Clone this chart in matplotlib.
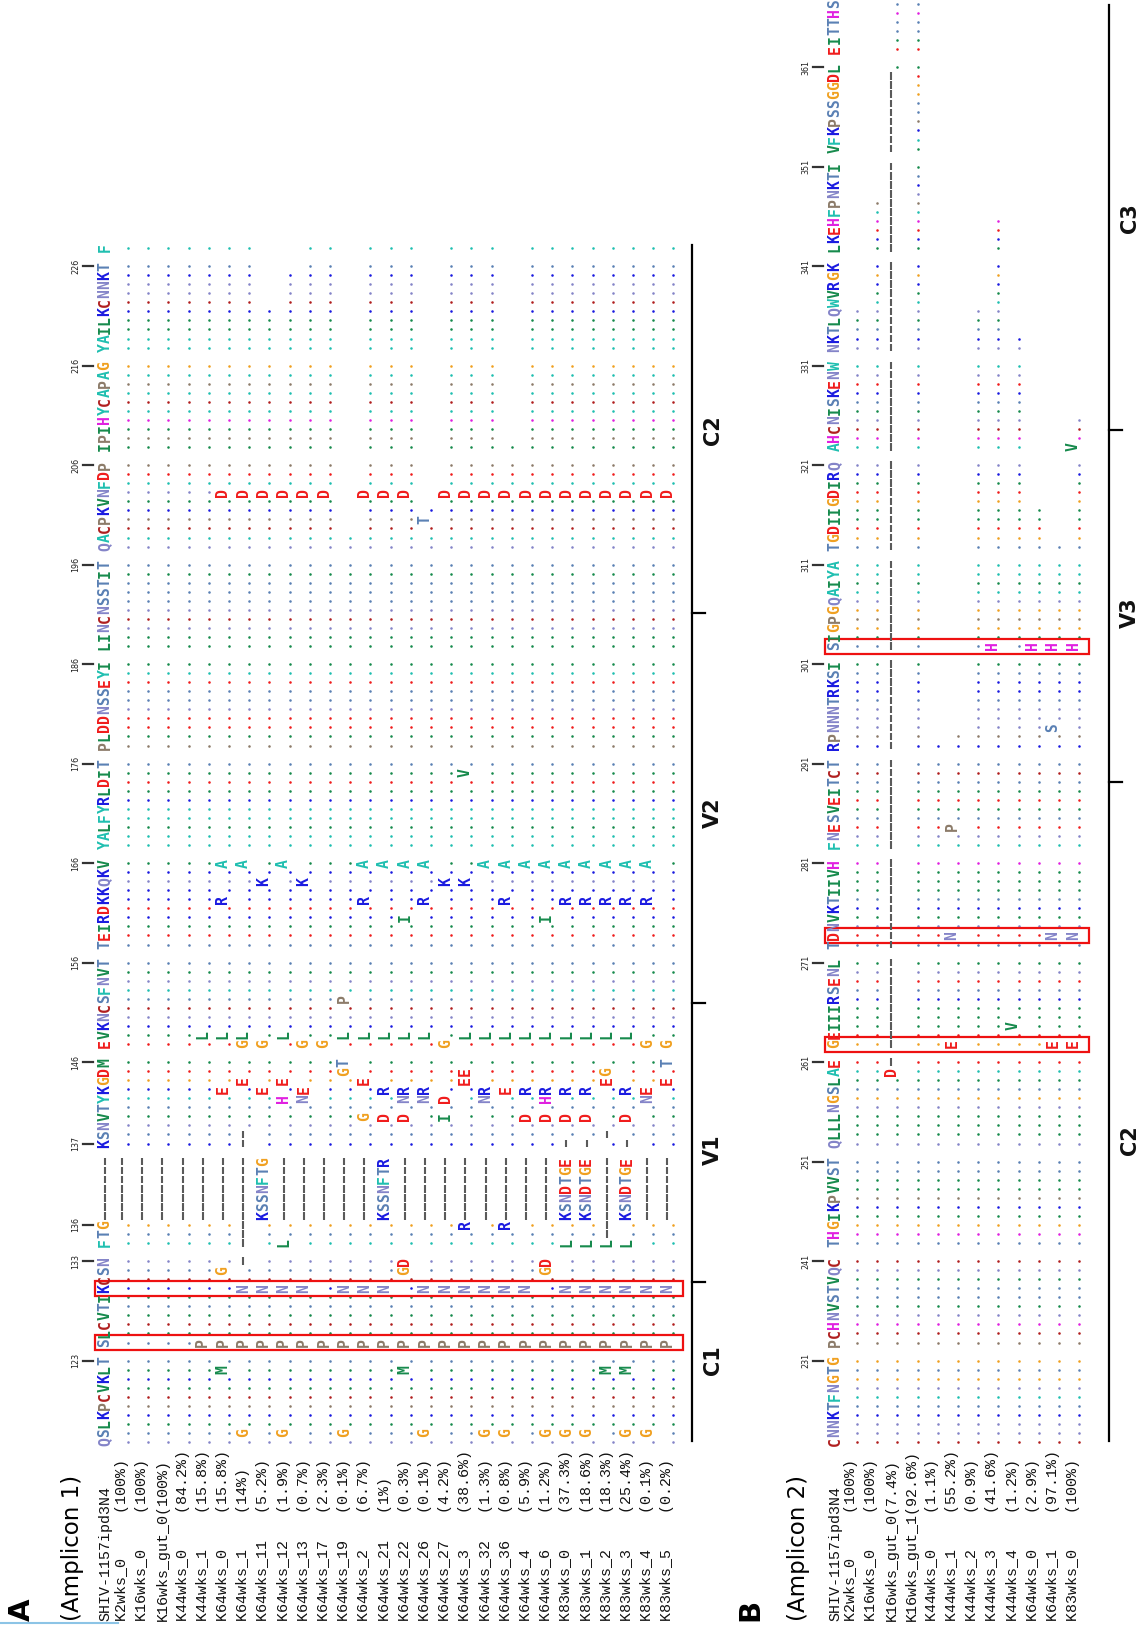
import numpy as np
import matplotlib
matplotlib.use("Agg")
import matplotlib.pyplot as plt
from matplotlib.patches import Rectangle
from matplotlib.collections import LineCollection

# residue colours
AA_COLORS = {
    "A": "#1fbfb0", "F": "#1fbfb0", "Y": "#1fbfb0", "W": "#1fbfb0",
    "I": "#168a4c", "L": "#168a4c", "M": "#168a4c", "V": "#168a4c",
    "K": "#1a1ae0", "R": "#1a1ae0",
    "D": "#f01c1c", "E": "#f01c1c",
    "N": "#8484c8", "Q": "#8484c8",
    "S": "#5a80b4", "T": "#5a80b4",
    "G": "#f0a020", "P": "#8c7b69", "C": "#b01e1e", "H": "#e020e0",
}

# ---------------- Amplicon 1 ----------------
REF_A = ("QSLKPCVKLT SLCVTIKCSN FTG------- KSNVTYKGDM EVKNCSFNVT TEIRDKKQKV "
         "YALFYRLDIT PLDDNSSEYI LINCNSSTIT QACPKVNFDP IPIHYCAPAG YAILKCNNKT F")
START_A = 114
TICKS_A = [123, 133, 136, 137, 146, 156, 166, 176, 186, 196, 206, 216, 226]
BOXES_A = [124, 130]
NAMES_A = ["K2wks_0", "K16wks_0", "K16wks_gut_0", "K44wks_0", "K44wks_1",
           "K64wks_0", "K64wks_1", "K64wks_11", "K64wks_12", "K64wks_13",
           "K64wks_17", "K64wks_19", "K64wks_2", "K64wks_21", "K64wks_22",
           "K64wks_26", "K64wks_27", "K64wks_3", "K64wks_32", "K64wks_36",
           "K64wks_4", "K64wks_6", "K83wks_0", "K83wks_1", "K83wks_2",
           "K83wks_3", "K83wks_4", "K83wks_5"]
PCT_A = ["100", "100", "100", "84.2", "15.8", "15.8", "14", "5.2", "1.9", "0.7",
         "2.3", "0.1", "6.7", "1", "0.3", "0.1", "4.2", "38.6", "1.3", "0.8",
         "5.9", "1.2", "37.3", "18.6", "18.3", "25.4", "0.1", "0.2"]
SEQS_A = [
    ".......... .......... ...------- .......... .......... .......... .......... .......... .......... .......... .......... .......... .",
    ".......... .......... ...------- .......... .......... .......... .......... .......... .......... .......... .......... .......... .",
    ".......... .......... ...------- .......... .......... .......... .......... .......... .......... .......... .......... .......... .",
    ".......... .......... ...------- .......... .......... .......... .......... .......... .......... .......... .......... .......... .",
    ".......... P......... ...------- .......... .L........ .......... .......... .......... .......... .......... .......... .......... .",
    "........M. P.......G. ...------- ......E... .L........ .....R...A .......... .......... .......... ......D... .......... .......... .",
    ".G........ P.....N..- ---------- --.....E.. GL........ .........A .......... .......... .......... ......D... .......... .......... .",
    ".......... P.....N... ...KSSNFTG ......E... G......... .......K.. .......... .......... .......... ......D... .......... .....",
    ".G........ P.....N... L..------- .....H.E.. .L........ .........A .......... .......... .......... ......D... .......... .........",
    ".......... P.....N... ...------- .....NE... G......... .......K.. .......... .......... .......... ......D... .......... .......... .",
    ".......... P......... ...------- .......... G......... .......... .......... .......... .......... ......D... .......... .......... .",
    ".G........ P.....N... ...------- ........GT .L...P.... .......... .......... .......... .......... ..",
    ".......... P.....N... ...------- ...G...E.. .L........ .....R...A .......... .......... .......... ......D... .......... .......... .",
    ".......... P.....N... ...KSSNFTR ...D..R... .L........ .........A .......... .......... .......... ......D... .......... .......... .",
    "........M. P.......GD ...------- ...D.NR... .L........ ...I.....A .......... .......... .......... ......D... .......... .......... .",
    ".G........ P.....N... ...------- .....NR... .L........ .....R...A .......... .......... .......... ...T.",
    ".......... P.....N... ...------- ...I.D.... G......... .......K.. .......... .......... .......... ......D... .......... .......... .",
    ".......... P.....N... ..R------- .......EE. .L........ .......K.. ........V. .......... .......... ......D... .......... .......... .",
    ".G........ P.....N... ...------- .....NR... .L........ .........A .......... .......... .......... ......D... .......... .......... .",
    ".G........ P.....N... ..R------- ......E... .L........ .....R...A .......... .......... .......... ......D... .",
    ".......... P.....N... ...------- ...D..R... .L........ .........A .......... .......... .......... ......D... .......... .......... .",
    ".G........ P.......GD ...------- ...D.HR... .L........ ...I.....A .......... .......... .......... ......D... .......... .......... .",
    ".G........ P.....N... L..KSNDTGE -..D..R... .L........ .....R...A .......... .......... .......... ......D... .......... .......... .",
    ".G........ P.....N... L..KSNDTGE -..D..R... .L........ .....R...A .......... .......... .......... ......D... .......... .......... .",
    "........M. P.....N... L--------- .-.....EG. .L........ .....R...A .......... .......... .......... ......D... .......... .......... .",
    ".G......M. P.....N... L..KSNDTGE -..D..R... .L........ .....R...A .......... .......... .......... ......D... .......... .......... .",
    ".G........ P.....N... ...------- .....NE... G......... .....R...A .......... .......... .......... ......D... .......... .......... .",
    ".......... P.....N... ...------- .......E.T G......... .......... .......... .......... .......... ......D... .......... .......... .",
]
REGIONS_A = [("C1", 1360), ("V1", 1150), ("V2", 813), ("C2", 430)]
REGION_TICKS_A = [17.7, 48.5, 91.6]

# ---------------- Amplicon 2 ----------------
REF_B = ("CNNKTFNGTG PCHNVSTVQC THGIKPVVST QLLLNGSLAE GEIIIRSENL TDNVKTIIVH "
         "FNESVEITCT RPNNNTRKSI SIGPGQAIYA TGDIIGDIRQ AHCNISKENW NKTLQWVRGK "
         "LKEHFPNKTI VFKPSSGGDL EITTHS")
START_B = 222
TICKS_B = [231, 241, 251, 261, 271, 281, 291, 301, 311, 321, 331, 341, 351, 361]
BOXES_B = [262, 273, 302]
NAMES_B = ["K2wks_0", "K16wks_0", "K16wks_gut_0", "K16wks_gut_1", "K44wks_0",
           "K44wks_1", "K44wks_2", "K44wks_3", "K44wks_4", "K64wks_0",
           "K64wks_1", "K83wks_0"]
PCT_B = ["100", "100", "7.4", "92.6", "1.1", "55.2", "0.9", "41.6", "1.2",
         "2.9", "97.1", "100"]
SEQS_B = [
    ".......... .......... .......... .......... .......... .......... .......... .......... .......... .......... .......... .....",
    ".......... .......... .......... .......... .......... .......... .......... .......... .......... .......... .......... .......... ......",
    ".......... .......... .......... ........D- ---------- ---------- ---------- ---------- ---------- ---------- ---------- ---------- ---------- ---------. ......",
    ".......... .......... .......... .......... .......... .......... .......... .......... .......... .......... .......... .......... .......... .......... ......",
    ".......... .......... .......... .......... .......... .......... .......... .",
    ".......... .......... .......... .......... E......... .N........ ..P....... ..",
    ".......... .......... .......... .......... .......... .......... .......... .......... .......... .......... .......... .....",
    ".......... .......... .......... .......... .......... .......... .......... .......... H......... .......... .......... .......... ....",
    ".......... .......... .......... .......... ..V....... .......... .......... .......... .......... .......... .......... ..",
    ".......... .......... .......... .......... .......... .......... .......... .......... H......... .....",
    ".......... .......... .......... .......... E......... .N........ .......... ..S....... H......... .",
    ".......... .......... .......... .......... E......... .N........ .......... .......... H......... .......... V...",
]
REGIONS_B = [("C2", 1140), ("V3", 613), ("C3", 218)]
REGION_TICKS_B = [73.0, 111.9]

# ---------------- layout ----------------
Y0 = 1442.0      # centre of the first alignment column
PITCH = 9.045    # one character cell
DX = 20.2        # spacing between sequences
LETTER_DX = -6.0 # letter centre relative to the dot baseline
SEQ_FONT = dict(family="DejaVu Sans Mono", fontweight="bold", fontsize=10.6)
NAME_FONT = dict(family="Liberation Mono", fontsize=10.85, color="#111111")


def slot_y(slot):
    return Y0 - slot * PITCH


def residue_slots(ref):
    """slot index of every residue (non-gap, non-space) in the reference"""
    return [i for i, c in enumerate(ref) if c not in " -"]


class Layer:
    """collects dots and gap strokes so each kind is drawn in one call"""

    def __init__(self):
        self.dots = {}
        self.gaps = []

    def add(self, ax, x, slot, ch, colour):
        y = slot_y(slot)
        if ch == ".":
            self.dots.setdefault(colour, []).append((x, y))
        elif ch == "-":
            xc = x + LETTER_DX
            self.gaps.append([(xc, y - 3.8), (xc, y + 3.8)])
        elif ch != " ":
            ax.text(x + LETTER_DX, y, ch, rotation=90, ha="center",
                    va="center", color=AA_COLORS.get(ch, "k"), **SEQ_FONT)

    def flush(self, ax):
        for colour, pts in self.dots.items():
            pts = np.array(pts)
            ax.scatter(pts[:, 0], pts[:, 1], s=3.4, c=colour, marker="o",
                       linewidths=0)
        ax.add_collection(LineCollection(self.gaps, colors="#5a5a5a",
                                         linewidths=1.5, capstyle="butt"))


def draw_panel(ax, ref, start, ticks, boxes, names, pcts, seqs, x_ref, x0,
               axis_x, regions, region_ticks, top_y):
    res_slots = residue_slots(ref)
    xs = [x0 + i * DX for i in range(len(seqs))]
    layer = Layer()

    # reference sequence
    for s, ch in enumerate(ref):
        layer.add(ax, x_ref, s, ch, AA_COLORS.get(ch, "k"))

    # aligned sequences
    for x, seq in zip(xs, seqs):
        for s, ch in enumerate(seq):
            layer.add(ax, x, s, ch, AA_COLORS.get(ref[s], "k"))
    layer.flush(ax)

    # position ticks above the reference
    for num in ticks:
        y = slot_y(res_slots[num - start])
        ax.plot([x_ref - 28, x_ref - 18], [y, y], color="#333333", lw=1.6)
        ax.text(x_ref - 35, y, str(num), rotation=90, ha="center",
                va="center", fontsize=5.8, color="#222222")

    # highlighted positions
    for num in boxes:
        y = slot_y(res_slots[num - start])
        ax.add_patch(Rectangle((x_ref - 16, y - 7.5), xs[-1] + 10 - (x_ref - 16),
                               15, fill=False, ec="#ee1111", lw=1.6))

    # sequence names
    ax.text(x_ref + LETTER_DX, 1621, "SHIV-1157ipd3N4", rotation=90,
            ha="center", va="bottom", **NAME_FONT)
    for x, name, pct in zip(xs, names, pcts):
        ax.text(x + LETTER_DX, 1621, f"{name:<12}({pct}%)", rotation=90,
                ha="center", va="bottom", **NAME_FONT)

    # region bar
    ax.plot([axis_x, axis_x], [1441, top_y], color="black", lw=1.6)
    for s in region_ticks:
        y = slot_y(s)
        ax.plot([axis_x, axis_x + 13], [y, y], color="black", lw=1.6)
    for label, y in regions:
        ax.text(axis_x + 21, y, label, rotation=90, ha="center", va="center",
                fontsize=15, fontweight="bold", color="#111111")


fig = plt.figure(figsize=(11.44, 16.25), dpi=100)
ax = fig.add_axes([0, 0, 1, 1])
ax.set_xlim(0, 1144)
ax.set_ylim(1625, 0)
ax.axis("off")

draw_panel(ax, REF_A, START_A, TICKS_A, BOXES_A, NAMES_A, PCT_A, SEQS_A,
           x_ref=111, x0=128, axis_x=692, regions=REGIONS_A,
           region_ticks=REGION_TICKS_A, top_y=245)
draw_panel(ax, REF_B, START_B, TICKS_B, BOXES_B, NAMES_B, PCT_B, SEQS_B,
           x_ref=841, x0=857, axis_x=1109, regions=REGIONS_B,
           region_ticks=REGION_TICKS_B, top_y=5)

# panel headings
ax.text(22, 1621, "A", rotation=90, ha="center", va="bottom", fontsize=21,
        fontweight="bold")
ax.text(72, 1621, "(Amplicon 1)", rotation=90, ha="center", va="bottom",
        fontsize=16.5)
ax.text(750, 1621, "B", rotation=90, ha="center", va="bottom", fontsize=21,
        fontweight="bold")
ax.text(799, 1621, "(Amplicon 2)", rotation=90, ha="center", va="bottom",
        fontsize=16.5)
ax.plot([0, 118], [1623, 1623], color="#8cc4e6", lw=1.5)

fig.savefig("out.png", dpi=100)
